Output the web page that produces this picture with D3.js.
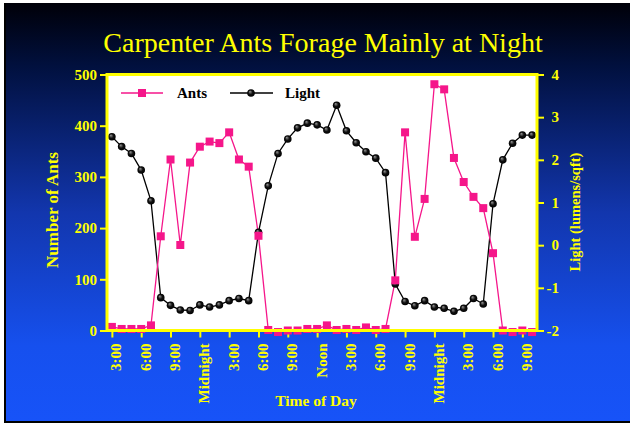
<!DOCTYPE html>
<html><head><meta charset="utf-8">
<script src="https://cdn.jsdelivr.net/npm/d3@7"></script>
<style>html,body{margin:0;padding:0;background:#fff;}svg{display:block;}</style>
</head><body>
<svg id="chart" width="630" height="423"></svg>
<script>
const title = "Carpenter Ants Forage Mainly at Night";
const hours = d3.range(0, 44);
const tickHours = [0,3,6,9,12,15,18,21,24,27,30,33,36,39,42];
const tickLabels = ["3:00","6:00","9:00","Midnight","3:00","6:00","9:00","Noon","3:00","6:00","9:00","Midnight","3:00","6:00","9:00"];
const ants = [7,3,3,3,10,184,334,167,328,359,369,366,387,334,320,185,1,-3,0,0,3,3,
              10,1,3,1,6,1,3,98,387,183,257,481,471,337,290,261,239,151,0,-3,0,-3];
const light = [2.54,2.31,2.15,1.76,1.04,-1.23,-1.41,-1.52,-1.53,-1.40,-1.45,-1.40,-1.30,-1.25,-1.30,0.30,1.39,2.15,2.49,2.75,2.86,2.82,
               2.70,3.28,2.68,2.40,2.19,2.04,1.70,-0.91,-1.32,-1.42,-1.30,-1.45,-1.48,-1.55,-1.48,-1.25,-1.38,0.97,2.0,2.39,2.58,2.58];
const antTicks = [0,100,200,300,400,500];
const lightTicks = [-2,-1,0,1,2,3,4];

const YEL = "#ffff00", PINK = "#f5168a";
const svg = d3.select("#chart");
const defs = svg.append("defs");
const bg = defs.append("linearGradient").attr("id","bg").attr("x1",0).attr("y1",0).attr("x2",0).attr("y2",1);
[[0,"#000008"],[0.15,"#01103e"],[0.5,"#1236ad"],[0.82,"#1650ee"],[1,"#1753f8"]].forEach(s=>bg.append("stop").attr("offset",s[0]).attr("stop-color",s[1]));
const rg = defs.append("radialGradient").attr("id","ball").attr("cx","50%").attr("cy","50%").attr("r","50%").attr("fx","35%").attr("fy","30%");
rg.append("stop").attr("offset",0).attr("stop-color","#9a9a9a");
rg.append("stop").attr("offset",0.55).attr("stop-color","#111");
rg.append("stop").attr("offset",1).attr("stop-color","#000");

svg.append("rect").attr("x",4).attr("y",3).attr("width",626).attr("height",420).attr("fill","#000");
svg.append("rect").attr("x",6).attr("y",3).attr("width",624).attr("height",418).attr("fill","url(#bg)");

const L = 107, R = 537, T = 74.5, B = 330.5;
const x = d3.scaleLinear().domain([-0.5,43.5]).range([L,R]);
const yA = d3.scaleLinear().domain([0,500]).range([B,T]);
const yL = d3.scaleLinear().domain([-2,4]).range([B,T]);

svg.append("text").attr("x",323).attr("y",52).attr("text-anchor","middle")
  .attr("font-family","Liberation Serif, Times New Roman, serif").attr("font-size",28).attr("fill",YEL).text(title);

svg.append("rect").attr("x",L).attr("y",T).attr("width",R-L).attr("height",B-T).attr("fill","#fff");

const font = "Liberation Serif, Times New Roman, serif";
// axes
const axL = svg.append("g").attr("transform",`translate(${L},0)`).call(d3.axisLeft(yA).tickValues(antTicks).tickSize(7).tickPadding(3).tickFormat(d3.format("d")));
const axR = svg.append("g").attr("transform",`translate(${R},0)`).call(d3.axisRight(yL).tickValues(lightTicks).tickSize(7).tickPadding(15).tickFormat(d3.format("d")));
const axB = svg.append("g").attr("transform",`translate(0,${B})`).call(d3.axisBottom(x).tickValues(tickHours).tickSize(7).tickFormat((d,i)=>tickLabels[i]));
[axL,axR,axB].forEach(a=>{
  a.select(".domain").remove();
  a.selectAll(".tick line").attr("stroke",YEL).attr("stroke-width",2);
  a.selectAll("text").attr("fill",YEL).attr("font-family",font).attr("font-weight","bold").attr("font-size",15);
});
axR.selectAll("text").attr("text-anchor","end").attr("x",22).text(d=>d<0?"-"+Math.abs(d):String(d));
axB.selectAll("text").attr("transform","rotate(-90)").attr("text-anchor","end")
  .attr("x",-13).attr("dy",0).attr("y",9);

// lines
const lineA = d3.line().x((d,i)=>x(hours[i])).y(d=>yA(d));
const lineL = d3.line().x((d,i)=>x(hours[i])).y(d=>yL(d));
svg.append("path").datum(light).attr("d",lineL).attr("fill","none").attr("stroke","#000").attr("stroke-width",1.3);
svg.append("path").datum(ants).attr("d",lineA).attr("fill","none").attr("stroke",PINK).attr("stroke-width",1.3);
svg.append("g").selectAll("circle").data(light).join("circle")
  .attr("cx",(d,i)=>x(hours[i])).attr("cy",d=>yL(d)).attr("r",3.8).attr("fill","url(#ball)");
svg.append("g").selectAll("rect").data(ants).join("rect")
  .attr("x",(d,i)=>x(hours[i])-4).attr("y",d=>yA(d)-4).attr("width",8).attr("height",8).attr("fill",PINK);

// frame
svg.append("rect").attr("x",L).attr("y",T).attr("width",R-L).attr("height",B-T).attr("fill","none").attr("stroke",YEL).attr("stroke-width",3);

// legend
const lg = svg.append("g");
lg.append("line").attr("x1",121).attr("x2",163).attr("y1",93).attr("y2",93).attr("stroke",PINK).attr("stroke-width",1.3);
lg.append("rect").attr("x",138).attr("y",89).attr("width",8).attr("height",8).attr("fill",PINK);
lg.append("text").attr("x",177).attr("y",98).attr("font-family",font).attr("font-weight","bold").attr("font-size",15).attr("fill","#000").text("Ants");
lg.append("line").attr("x1",230).attr("x2",273).attr("y1",93).attr("y2",93).attr("stroke","#000").attr("stroke-width",1.3);
lg.append("circle").attr("cx",251).attr("cy",93).attr("r",3.8).attr("fill","url(#ball)");
lg.append("text").attr("x",285).attr("y",98).attr("font-family",font).attr("font-weight","bold").attr("font-size",15).attr("fill","#000").text("Light");

// axis titles
svg.append("text").attr("transform","translate(58,210) rotate(-90)").attr("text-anchor","middle")
  .attr("font-family",font).attr("font-weight","bold").attr("font-size",17).attr("fill",YEL).text("Number of Ants");
svg.append("text").attr("transform","translate(580,212) rotate(-90)").attr("text-anchor","middle")
  .attr("font-family",font).attr("font-weight","bold").attr("font-size",14.5).attr("fill",YEL).text("Light (lumens/sqft)");
svg.append("text").attr("x",316).attr("y",406).attr("text-anchor","middle")
  .attr("font-family",font).attr("font-weight","bold").attr("font-size",15.5).attr("fill",YEL).text("Time of Day");
</script>
</body></html>
